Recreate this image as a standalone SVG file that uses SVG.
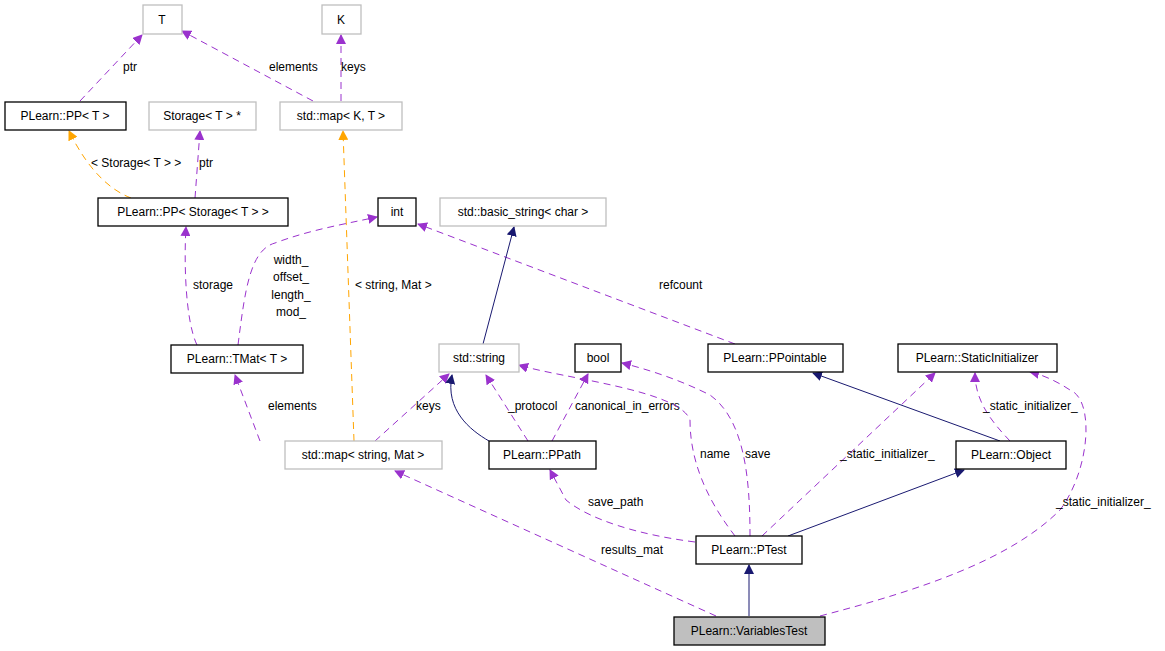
<svg xmlns="http://www.w3.org/2000/svg" width="1165" height="651" viewBox="0 0 1165 651">
<style>
text{font-family:"Liberation Sans",Arial,sans-serif;font-size:12px;fill:#000}
.n text{text-anchor:middle}
.b{fill:#fff;stroke:#000;stroke-width:1.3}
.g{fill:#fff;stroke:#bfbfbf;stroke-width:1.3}
.p{fill:none;stroke:#9a32cd;stroke-dasharray:7,5}
.o{fill:none;stroke:#ffa500;stroke-dasharray:7,5}
.s{fill:none;stroke:#191970}
</style>
<defs>
<marker id="mp" markerWidth="10" markerHeight="10" refX="9" refY="5" orient="auto" markerUnits="userSpaceOnUse"><path d="M0,0 L10,5 L0,10z" fill="#9a32cd"/></marker>
<marker id="mo" markerWidth="10" markerHeight="10" refX="9" refY="5" orient="auto" markerUnits="userSpaceOnUse"><path d="M0,0 L10,5 L0,10z" fill="#ffa500"/></marker>
<marker id="ms" markerWidth="10" markerHeight="10" refX="9" refY="5" orient="auto" markerUnits="userSpaceOnUse"><path d="M0,0 L10,5 L0,10z" fill="#191970"/></marker>
</defs>
<rect width="1165" height="651" fill="#fff"/>
<g id="edges">
<path class="p" marker-end="url(#mp)" d="M80,101 L142,35"/><text x="123" y="71">ptr</text>
<path class="p" marker-end="url(#mp)" d="M313,101 L182,31"/><text x="269" y="71">elements</text>
<path class="p" marker-end="url(#mp)" d="M341,101 L341,35"/><text x="341" y="71">keys</text>
<path class="o" marker-end="url(#mo)" d="M131,198 C110,190 88,170 69,131"/><text x="91" y="167">&lt; Storage&lt; T &gt; &gt;</text>
<path class="p" marker-end="url(#mp)" d="M195,198 L200,131"/><text x="199" y="167">ptr</text>
<path class="o" marker-end="url(#mo)" d="M354,441 L343,131"/><text x="355" y="289">&lt; string, Mat &gt;</text>
<path class="p" marker-end="url(#mp)" d="M197,345 C185,320 184,260 186,227"/><text x="193" y="289">storage</text>
<path class="p" marker-end="url(#mp)" d="M238,345 C245,290 250,250 275,243 C310,230 340,225 377,217"/>
<text x="291" y="264" text-anchor="middle">width_</text><text x="291" y="281" text-anchor="middle">offset_</text><text x="291" y="299" text-anchor="middle">length_</text><text x="291" y="316" text-anchor="middle">mod_</text>
<path class="p" marker-end="url(#mp)" d="M735,344 L418,224"/><text x="659" y="289">refcount</text>
<path class="s" marker-end="url(#ms)" d="M483,344 L514,227"/>
<path class="p" marker-end="url(#mp)" d="M260,441 L235,375"/><text x="268" y="410">elements</text>
<path class="p" marker-end="url(#mp)" d="M375,441 L449,374"/><text x="416" y="410">keys</text>
<path class="s" marker-end="url(#ms)" d="M489,441 C470,430 445,410 452,375"/>
<path class="p" marker-end="url(#mp)" d="M528,441 L486,375"/><text x="508" y="410">_protocol</text>
<path class="p" marker-end="url(#mp)" d="M552,441 L588,374"/><text x="575" y="410">canonical_in_errors</text>
<path class="p" marker-end="url(#mp)" d="M735,536 C715,510 690,470 690,420 C680,390 560,378 519,365"/><text x="700" y="458">name</text>
<path class="p" marker-end="url(#mp)" d="M750,536 C750,480 745,420 710,395 C680,380 650,370 622,363"/><text x="745" y="458">save</text>
<path class="p" marker-end="url(#mp)" d="M762,536 L935,373"/><text x="840" y="458">_static_initializer_</text>
<path class="p" marker-end="url(#mp)" d="M695,542 C640,535 590,520 566,500 L550,470"/><text x="588" y="506">save_path</text>
<path class="p" marker-end="url(#mp)" d="M716,616 L395,471"/><text x="601" y="554">results_mat</text>
<path class="s" marker-end="url(#ms)" d="M788,536 L964,470"/>
<path class="s" marker-end="url(#ms)" d="M1000,441 L813,373"/>
<path class="p" marker-end="url(#mp)" d="M1010,441 C990,420 975,400 975,373"/><text x="983" y="410">_static_initializer_</text>
<path class="p" marker-end="url(#mp)" d="M820,616 C920,590 1010,560 1060,510 C1090,470 1095,400 1070,390 C1055,380 1040,374 1030,372"/><text x="1056" y="506">_static_initializer_</text>
<path class="s" marker-end="url(#ms)" d="M749,616 L749,565"/>
</g>
<g class="n">
<g id="n_T"><rect class="g" x="143" y="5" width="39" height="29"/><text x="162" y="24">T</text></g>
<g id="n_K"><rect class="g" x="322" y="5" width="39" height="29"/><text x="341" y="24">K</text></g>
<g id="n_PPT"><rect class="b" x="5" y="102" width="121" height="28"/><text x="65" y="120">PLearn::PP&lt; T &gt;</text></g>
<g id="n_StorageT"><rect class="g" x="149" y="102" width="107" height="28"/><text x="202" y="120">Storage&lt; T &gt; *</text></g>
<g id="n_mapKT"><rect class="g" x="280" y="102" width="122" height="28"/><text x="341" y="120">std::map&lt; K, T &gt;</text></g>
<g id="n_PPStorage"><rect class="b" x="98" y="198" width="190" height="28"/><text x="193" y="216">PLearn::PP&lt; Storage&lt; T &gt; &gt;</text></g>
<g id="n_int"><rect class="b" x="378" y="198" width="38" height="28"/><text x="397" y="216">int</text></g>
<g id="n_basic_string"><rect class="g" x="440" y="198" width="166" height="28"/><text x="523" y="216">std::basic_string&lt; char &gt;</text></g>
<g id="n_TMat"><rect class="b" x="171" y="345" width="132" height="28"/><text x="237" y="363">PLearn::TMat&lt; T &gt;</text></g>
<g id="n_string"><rect class="g" x="439" y="344" width="80" height="28"/><text x="479" y="362">std::string</text></g>
<g id="n_bool"><rect class="b" x="575" y="344" width="46" height="28"/><text x="598" y="362">bool</text></g>
<g id="n_PPointable"><rect class="b" x="708" y="344" width="135" height="28"/><text x="775" y="362">PLearn::PPointable</text></g>
<g id="n_StaticInit"><rect class="b" x="898" y="344" width="159" height="28"/><text x="977" y="362">PLearn::StaticInitializer</text></g>
<g id="n_mapMat"><rect class="g" x="285" y="441" width="157" height="28"/><text x="363" y="459">std::map&lt; string, Mat &gt;</text></g>
<g id="n_PPath"><rect class="b" x="489" y="441" width="107" height="28"/><text x="542" y="459">PLearn::PPath</text></g>
<g id="n_Object"><rect class="b" x="956" y="441" width="110" height="28"/><text x="1011" y="459">PLearn::Object</text></g>
<g id="n_PTest"><rect class="b" x="696" y="536" width="106" height="28"/><text x="749" y="554">PLearn::PTest</text></g>
<g id="n_VariablesTest"><rect x="674" y="617" width="151" height="28" fill="#bfbfbf" stroke="#000" stroke-width="1.3"/><text x="749" y="635">PLearn::VariablesTest</text></g>
</g>
</svg>
